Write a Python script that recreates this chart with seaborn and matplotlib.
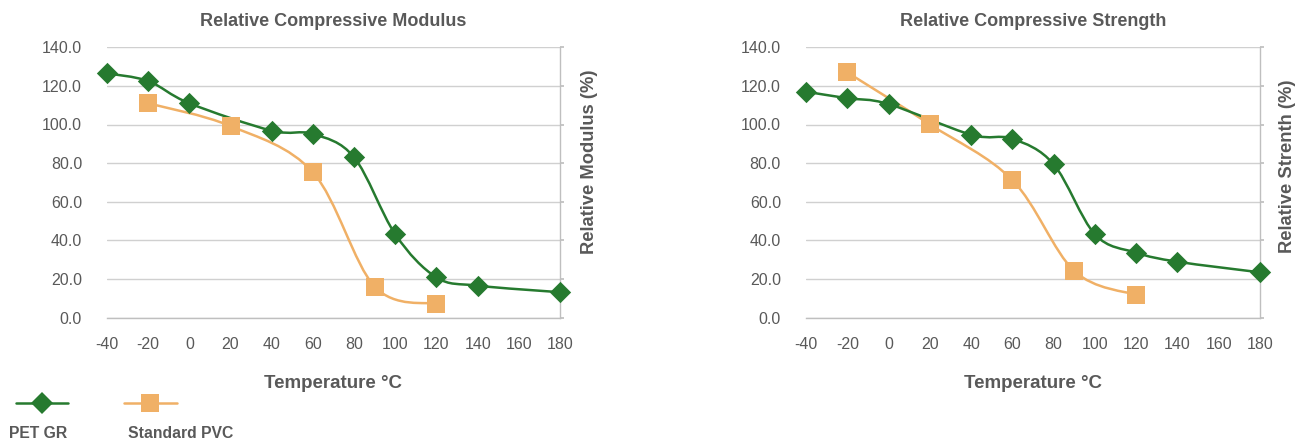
import numpy as np
import pandas as pd
import matplotlib
matplotlib.use('Agg')
import matplotlib.pyplot as plt
from matplotlib.path import Path
from matplotlib.patches import PathPatch
from matplotlib.lines import Line2D
import seaborn as sns

# values
temp_pet = [-40, -20, 0, 40, 60, 80, 100, 120, 140, 180]
temp_pvc = [-20, 20, 60, 90, 120]
modulus_pet = [126.5, 122.5, 111.0, 96.8, 95.1, 83.0, 43.1, 20.8, 16.5, 13.1]
modulus_pvc = [111.0, 99.2, 75.2, 16.0, 7.0]
strength_pet = [117.0, 113.6, 110.6, 94.7, 92.6, 79.4, 43.1, 33.6, 28.9, 23.4]
strength_pvc = [127.0, 100.1, 71.2, 24.1, 11.7]

series_names = ['PET GR', 'Standard PVC']
titles = ['Relative Compressive Modulus', 'Relative Compressive Strength']
ylabels = ['Relative Modulus (%)', 'Relative Strenth (%)']
xlabel = 'Temperature °C'
xticks = list(range(-40, 181, 20))
yticks = list(range(0, 141, 20))

GREEN = '#267a2f'
ORANGE = '#f0b066'
GREY = '#595959'
GRID = '#d0d0d0'

sns.set_theme(style='white')
plt.rcParams['font.family'] = ['Liberation Sans', 'DejaVu Sans']
plt.rcParams['axes.unicode_minus'] = False


def smooth_path(x, y):
    # Excel-style smoothed line: Catmull-Rom segments as cubic Beziers
    pts = np.column_stack([x, y]).astype(float)
    n = len(pts)
    verts = [pts[0]]
    codes = [Path.MOVETO]
    for i in range(n - 1):
        p0 = pts[max(i - 1, 0)]
        p1 = pts[i]
        p2 = pts[i + 1]
        p3 = pts[min(i + 2, n - 1)]
        verts += [p1 + (p2 - p0) / 6, p2 - (p3 - p1) / 6, p2]
        codes += [Path.CURVE4] * 3
    return Path(verts, codes)


def make_df(pet, pvc):
    return pd.DataFrame({
        'temp': temp_pet + temp_pvc,
        'value': pet + pvc,
        'series': [series_names[0]] * len(temp_pet) + [series_names[1]] * len(temp_pvc),
    })


fig = plt.figure(figsize=(13.03, 4.43), dpi=100)
W, H = 1303, 443
ax_mod = fig.add_axes([107 / W, 1 - 317.5 / H, 453 / W, 270.2 / H])
ax_str = fig.add_axes([806 / W, 1 - 317.5 / H, 454 / W, 270.2 / H])

panels = [
    (ax_mod, make_df(modulus_pet, modulus_pvc), titles[0], ylabels[0], 1.066, 0.577),
    (ax_str, make_df(strength_pet, strength_pvc), titles[1], ylabels[1], 1.061, 0.56),
]

styles = {series_names[0]: (GREEN, 'D', 118), series_names[1]: (ORANGE, 's', 160)}

for ax, df, title, ylab, lx, ly in panels:
    for name in series_names[::-1]:
        color, marker, size = styles[name]
        sub = df[df.series == name]
        ax.add_patch(PathPatch(smooth_path(sub.temp, sub.value), facecolor='none',
                               edgecolor=color, lw=1.8, zorder=3, clip_on=False))
        sns.scatterplot(data=sub, x='temp', y='value', marker=marker, s=size,
                        color=color, linewidth=0, ax=ax, zorder=4, legend=False)
        ax.collections[-1].set_clip_on(False)

    ax.set_xlim(-40, 180)
    ax.set_ylim(0, 140)
    ax.set_xticks(xticks)
    ax.set_yticks(yticks)
    ax.set_yticklabels([f'{v:.1f}' for v in yticks])
    ax.grid(axis='y', color=GRID, lw=1)
    ax.grid(axis='x', visible=False)
    for s in ['left', 'top']:
        ax.spines[s].set_visible(False)
    ax.spines['right'].set_color('#bfbfbf')
    ax.spines['bottom'].set_color('#bfbfbf')
    ax.spines['right'].set_linewidth(1)
    ax.spines['bottom'].set_linewidth(1)
    ax.tick_params(axis='x', length=0, labelsize=11.5, labelcolor=GREY, pad=14)
    ax.tick_params(axis='y', left=False, right=True, labelleft=True, labelright=False,
                   length=3, color='#bfbfbf', labelsize=11.5, labelcolor=GREY, pad=15)
    ax.set_xlabel('')
    ax.set_ylabel('')
    ax.text(0.5, 1.094, title, transform=ax.transAxes, ha='center', va='center',
            fontsize=13, fontweight='bold', color=GREY)
    ax.text(0.5, -0.243, xlabel, transform=ax.transAxes, ha='center', va='center',
            fontsize=13.5, fontweight='bold', color=GREY)
    ax.text(lx, ly, ylab, transform=ax.transAxes, rotation=90, ha='center', va='center',
            fontsize=13.2, fontweight='bold', color=GREY)

handles = [
    Line2D([], [], color=GREEN, lw=1.8, marker='D', markersize=10.8, markeredgewidth=0),
    Line2D([], [], color=ORANGE, lw=1.8, marker='s', markersize=12.6, markeredgewidth=0),
]
fig.legend(handles, ['', ''], ncol=2, loc='center left', bbox_to_anchor=(15.7 / W, 1 - 404 / H),
           frameon=False, fontsize=10, handlelength=3.8, handletextpad=0, columnspacing=4.0,
           borderpad=0, borderaxespad=0)
fig.text(9 / W, 1 - 433 / H, series_names[0], ha='left', va='center', fontsize=11.3,
         fontweight='bold', color=GREY)
fig.text(128 / W, 1 - 433 / H, series_names[1], ha='left', va='center', fontsize=11.3,
         fontweight='bold', color=GREY)

fig.savefig('out.png', dpi=100)
